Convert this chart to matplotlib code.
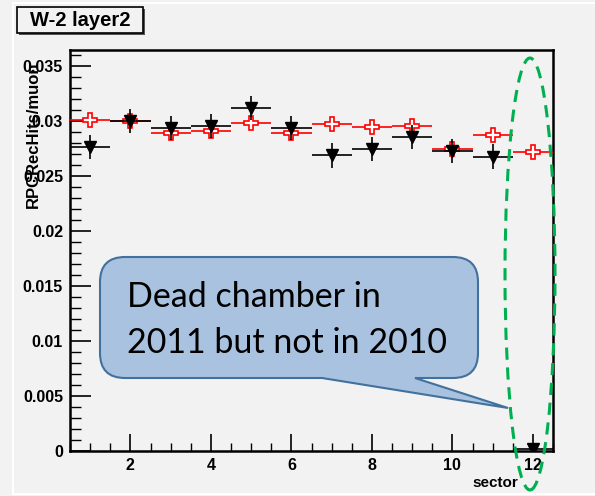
import matplotlib.pyplot as plt
from matplotlib.path import Path
from matplotlib.patches import PathPatch, Ellipse, Rectangle
from matplotlib.lines import Line2D
from matplotlib.ticker import MultipleLocator, FuncFormatter

# sector number
sectors = [1, 2, 3, 4, 5, 6, 7, 8, 9, 10, 11, 12]
# red open crosses
hits_2010 = [0.0301, 0.0300, 0.0289, 0.0291, 0.0299, 0.0289,
             0.0298, 0.0295, 0.0296, 0.0275, 0.0288, 0.0272]
err_2010 = [0.0003] * 12
# black triangles
hits_2011 = [0.0277, 0.0300, 0.0294, 0.0296, 0.0312, 0.0294,
             0.0269, 0.0275, 0.0286, 0.0273, 0.0268, 0.0002]
err_2011 = [0.0011] * 11 + [0.0001]

W, H = 595, 496
bg = '#f2f2f2'
plt.rcParams['font.family'] = ['Liberation Sans', 'DejaVu Sans']
fig = plt.figure(figsize=(W / 100, H / 100), dpi=100, facecolor=bg)


def fx(px):
    return px / W


def fy(py):
    return 1 - py / H


ax = fig.add_axes([fx(70), fy(451), fx(553) - fx(70), fy(50) - fy(451)])
ax.set_facecolor(bg)
ax.set_xlim(0.5, 12.5)
ax.set_ylim(0, 0.0365)

ax.errorbar(sectors, hits_2010, xerr=0.5, yerr=err_2010, fmt='P', color='red',
            mfc='white', mec='red', ms=10, mew=1.2, lw=1.2, capsize=0, zorder=3)
ax.errorbar(sectors, hits_2011, xerr=0.5, yerr=err_2011, fmt='v', color='black',
            mfc='black', mec='black', ms=9, lw=1.2, capsize=0, zorder=4)

for s in ['top', 'right', 'left', 'bottom']:
    ax.spines[s].set_linewidth(1.8)
ax.xaxis.set_major_locator(MultipleLocator(2))
ax.xaxis.set_minor_locator(MultipleLocator(0.5))
ax.yaxis.set_major_locator(MultipleLocator(0.005))
ax.yaxis.set_minor_locator(MultipleLocator(0.001))
ax.yaxis.set_major_formatter(FuncFormatter(lambda v, p: ('%g' % round(v, 4))))
ax.tick_params(which='major', direction='in', length=12, width=1.2,
               labelsize=11.5, pad=5)
ax.tick_params(which='minor', direction='in', length=6, width=1.0)
ax.tick_params(axis='y', which='major', length=15)
ax.tick_params(axis='y', which='minor', length=8)
for lab in ax.get_xticklabels() + ax.get_yticklabels():
    lab.set_fontweight('bold')

fig.text(fx(33), fy(62), 'RPCRecHits/muon', rotation=90, ha='center', va='top',
         fontsize=12, fontweight='bold')
fig.text(fx(518), fy(483), 'sector', ha='right', va='center',
         fontsize=11, fontweight='bold')

# title box with shadow
fig.patches.append(Rectangle((fx(19), fy(35)), fx(126), fy(0) - fy(26),
                             transform=fig.transFigure, facecolor='#555555',
                             edgecolor='none', zorder=1))
fig.patches.append(Rectangle((fx(17), fy(33)), fx(126), fy(0) - fy(26),
                             transform=fig.transFigure, facecolor=bg,
                             edgecolor='black', lw=1.2, zorder=2))
fig.text(fx(80), fy(20), 'W-2 layer2', ha='center', va='center',
         fontsize=14.5, fontweight='bold', zorder=3)

# thin white frame lines
fig.add_artist(Line2D([fx(13), fx(13)], [fy(3), fy(494)], color='white', lw=1.5))
fig.add_artist(Line2D([fx(13), fx(595)], [fy(3), fy(3)], color='white', lw=1.5))
fig.add_artist(Line2D([fx(13), fx(595)], [fy(494), fy(494)], color='white', lw=1.5))

# callout
x0, x1, y0, y1, r = 100, 478, 257, 378, 25
pts = [(x0 + r, y0), (x1 - r, y0), (x1, y0), (x1, y0 + r), (x1, y1 - r),
       (x1, y1), (x1 - r, y1), (415, y1), (508, 408), (322, y1), (x0 + r, y1),
       (x0, y1), (x0, y1 - r), (x0, y0 + r), (x0, y0), (x0 + r, y0), (x0 + r, y0)]
codes = [Path.MOVETO, Path.LINETO, Path.CURVE3, Path.CURVE3, Path.LINETO,
         Path.CURVE3, Path.CURVE3, Path.LINETO, Path.LINETO, Path.LINETO,
         Path.LINETO, Path.CURVE3, Path.CURVE3, Path.LINETO, Path.CURVE3,
         Path.CURVE3, Path.CLOSEPOLY]
verts = [(fx(a), fy(b)) for a, b in pts]
fig.patches.append(PathPatch(Path(verts, codes), transform=fig.transFigure,
                             facecolor='#a9c2df', edgecolor='#41719c', lw=1.5,
                             zorder=5))
fig.text(fx(127), fy(307), 'Dead chamber in', fontsize=24.5, family='Lato',
         ha='left', va='baseline', zorder=6)
fig.text(fx(127), fy(353), '2011 but not in 2010', fontsize=24.5, family='Lato',
         ha='left', va='baseline', zorder=6)

# green dashed ellipse
fig.patches.append(Ellipse((fx(530), fy(274)), fx(50), fy(58) - fy(490),
                           transform=fig.transFigure, facecolor='none',
                           edgecolor='#00b050', lw=2.2, ls=(0, (4, 2.5)), zorder=7))

fig.savefig('out.png', dpi=100, facecolor=bg)
